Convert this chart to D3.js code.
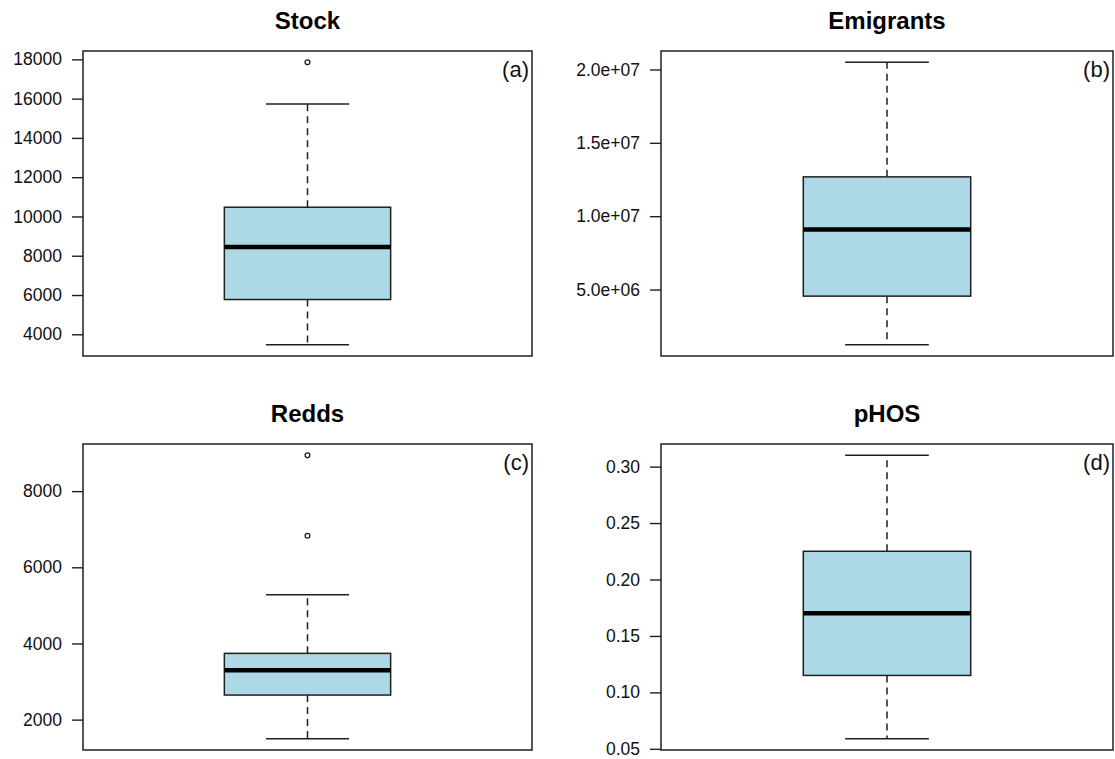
<!DOCTYPE html>
<html><head><meta charset="utf-8">
<script src="https://cdn.jsdelivr.net/npm/d3@7"></script>
<style>body{margin:0;background:#fff}svg{display:block}</style>
</head><body>
<script>
const panelTitles = ["Stock", "Emigrants", "Redds", "pHOS"];
const panelTags = ["(a)", "(b)", "(c)", "(d)"];
const whiskerLow = [3470, 1.24e6, 1500, 0.059];
const q1 = [5770, 4.55e6, 2645, 0.115];
const median = [8450, 9.09e6, 3295, 0.17];
const q3 = [10470, 12.68e6, 3740, 0.225];
const whiskerHigh = [15730, 20.49e6, 5280, 0.31];
const outliers = [[17850], [], [6830, 8940], []];
const tickValues = [
  [4000, 6000, 8000, 10000, 12000, 14000, 16000, 18000],
  [5e6, 1e7, 1.5e7, 2e7],
  [2000, 4000, 6000, 8000],
  [0.05, 0.10, 0.15, 0.20, 0.25, 0.30]
];
const tickLabels = [
  ["4000", "6000", "8000", "10000", "12000", "14000", "16000", "18000"],
  ["5.0e+06", "1.0e+07", "1.5e+07", "2.0e+07"],
  ["2000", "4000", "6000", "8000"],
  ["0.05", "0.10", "0.15", "0.20", "0.25", "0.30"]
];

const W = 1115, H = 759;
const frames = [
  {x0: 83, x1: 532, y0: 51, y1: 356},
  {x0: 661, x1: 1113, y0: 51, y1: 356},
  {x0: 83, x1: 532, y0: 444, y1: 750},
  {x0: 661, x1: 1113, y0: 444, y1: 750}
];
const svg = d3.select("body").append("svg").attr("width", W).attr("height", H);
const font = "Liberation Sans, Arial, sans-serif";
const ink = "#1f1f1f";

panelTitles.forEach((title, i) => {
  const f = frames[i];
  const vals = [whiskerLow[i], whiskerHigh[i], ...outliers[i]];
  const lo = d3.min(vals), hi = d3.max(vals), ext = (hi - lo) * 0.04;
  const y = d3.scaleLinear().domain([lo - ext, hi + ext]).range([f.y1, f.y0]);
  const x = d3.scaleLinear().domain([0.46, 1.54]).range([f.x0, f.x1]);
  const g = svg.append("g");

  // title
  g.append("text").attr("x", (f.x0 + f.x1) / 2).attr("y", f.y0 - 22)
    .attr("text-anchor", "middle").attr("font-family", font)
    .attr("font-weight", "bold").attr("font-size", 24).attr("fill", "#000").text(title);

  // axis
  const axis = d3.axisLeft(y).tickValues(tickValues[i]).tickSize(11).tickPadding(10)
    .tickFormat((d, k) => tickLabels[i][k]);
  const ax = g.append("g").attr("transform", `translate(${f.x0},0)`).call(axis);
  ax.select(".domain").remove();
  ax.selectAll(".tick line").attr("stroke", ink).attr("stroke-width", 1.4);
  ax.selectAll(".tick text").attr("font-family", font).attr("font-size", 17.5).attr("fill", "#111");

  const xc = x(1), hw = x(1.2) - x(1), cw = x(1.1) - x(1);
  // whiskers dashed
  g.append("line").attr("x1", xc).attr("x2", xc).attr("y1", y(q3[i])).attr("y2", y(whiskerHigh[i]))
    .attr("stroke", ink).attr("stroke-width", 1.5).attr("stroke-dasharray", "7,5");
  g.append("line").attr("x1", xc).attr("x2", xc).attr("y1", y(q1[i])).attr("y2", y(whiskerLow[i]))
    .attr("stroke", ink).attr("stroke-width", 1.5).attr("stroke-dasharray", "7,5");
  // caps
  [whiskerLow[i], whiskerHigh[i]].forEach(v => {
    g.append("line").attr("x1", xc - cw).attr("x2", xc + cw).attr("y1", y(v)).attr("y2", y(v))
      .attr("stroke", ink).attr("stroke-width", 1.5);
  });
  // box
  g.append("rect").attr("x", xc - hw).attr("width", 2 * hw)
    .attr("y", y(q3[i])).attr("height", y(q1[i]) - y(q3[i]))
    .attr("fill", "#ADD8E6").attr("stroke", ink).attr("stroke-width", 1.5);
  // median
  g.append("line").attr("x1", xc - hw).attr("x2", xc + hw).attr("y1", y(median[i])).attr("y2", y(median[i]))
    .attr("stroke", "#000").attr("stroke-width", 4.5);
  // outliers
  g.selectAll("circle.out").data(outliers[i]).enter().append("circle")
    .attr("cx", xc).attr("cy", d => y(d)).attr("r", 2.4)
    .attr("fill", "none").attr("stroke", ink).attr("stroke-width", 1.3);

  // frame
  g.append("rect").attr("x", f.x0).attr("y", f.y0).attr("width", f.x1 - f.x0).attr("height", f.y1 - f.y0)
    .attr("fill", "none").attr("stroke", ink).attr("stroke-width", 1.5);

  // tag
  g.append("text").attr("x", f.x1 - 3).attr("y", f.y0 + 26).attr("text-anchor", "end")
    .attr("font-family", font).attr("font-size", 22).attr("fill", "#111").text(panelTags[i]);
});
</script>
</body></html>
